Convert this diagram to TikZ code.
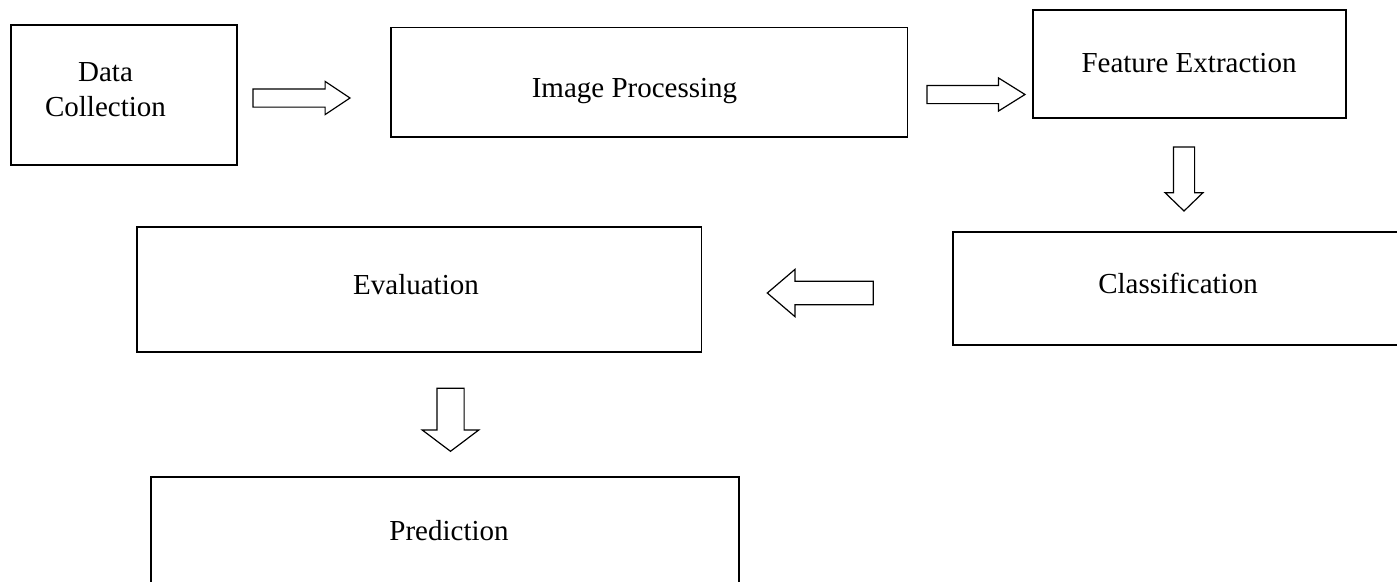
\documentclass[tikz,border=0pt]{standalone}
\usepackage{fontspec}
\setmainfont{Liberation Serif}
\usetikzlibrary{shapes.arrows}
\tikzset{
  box/.style={draw=black, line width=1.8pt, rectangle, inner sep=0pt, outer sep=0pt, anchor=north west},
  lbl/.style={anchor=base, inner sep=0pt, font=\fontsize{29}{35}\selectfont},
  barrow/.style={single arrow, draw=black, fill=white, line width=1.2pt, inner xsep=0pt, outer sep=0pt, minimum width=0pt, anchor=tail},
}
\begin{document}
\begin{tikzpicture}[x=1pt, y=-1pt]
\useasboundingbox (0,0) rectangle (1397,581);
\clip (0,0) rectangle (1397,581);
% boxes
\node[box, minimum width=226.6pt, minimum height=140pt] (dc) at (10.7,25) {};
\node[box, minimum width=516.5pt, minimum height=109.5pt] (ip) at (391,27.5) {};
\node[box, minimum width=313pt, minimum height=108.3pt] (fe) at (1033,10) {};
\node[box, minimum width=449.7pt, minimum height=113.3pt] (cl) at (953.3,231.7) {};
\node[box, minimum width=564.8pt, minimum height=125.3pt] (ev) at (136.7,227) {};
\node[box, minimum width=588.3pt, minimum height=130pt] (pr) at (151,477) {};
% labels
\node[lbl] (dct1) at (105.5,81) {Data};
\node[lbl] (dct2) at (105.5,116) {Collection};
\node[lbl] (ipt) at (634.5,97) {Image Processing};
\node[lbl] (fet) at (1189,72) {Feature Extraction};
\node[lbl] (clt) at (1178,293.3) {Classification};
\node[lbl] (evt) at (416,294.3) {Evaluation};
\node[lbl] (prt) at (449,540.5) {Prediction};
% block arrows
\node[barrow, inner ysep=8.5pt, single arrow head extend=7.5pt, single arrow tip angle=67.4, minimum height=97pt] (a1) at (253,98) {};
\node[barrow, inner ysep=8.5pt, single arrow head extend=7.5pt, single arrow tip angle=64, minimum height=98pt] (a2) at (927,94.5) {};
\node[barrow, rotate=-90, inner ysep=10pt, single arrow head extend=8.3pt, single arrow tip angle=92, minimum height=64pt] (a3) at (1184,147) {};
\node[barrow, rotate=180, inner ysep=11.2pt, single arrow head extend=11.8pt, single arrow tip angle=81, minimum height=106pt] (a4) at (873.3,293) {};
\node[barrow, rotate=-90, inner ysep=13pt, single arrow head extend=14.8pt, single arrow tip angle=106, minimum height=63pt] (a5) at (450.5,388.3) {};
\end{tikzpicture}
\end{document}
